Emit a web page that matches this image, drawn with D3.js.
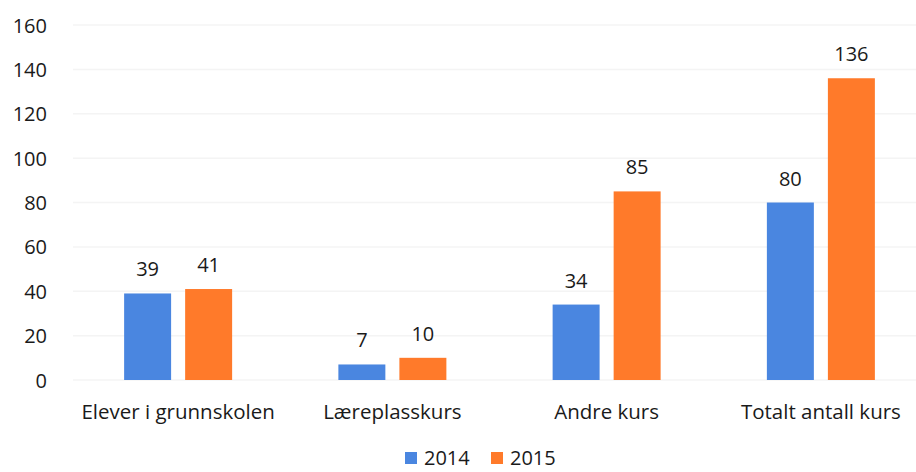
<!DOCTYPE html>
<html><head><meta charset="utf-8">
<script src="https://cdn.jsdelivr.net/npm/d3@7"></script>
<style>body{margin:0;background:#fff}svg{display:block}text{font-family:"Open Sans",sans-serif;fill:#1a1a1a}</style>
</head><body><svg id="c" width="916" height="472"></svg>
<script>
const categories = ["Elever i grunnskolen", "Læreplasskurs", "Andre kurs", "Totalt antall kurs"];
const seriesNames = ["2014", "2015"];
const values2014 = [39, 7, 34, 80];
const values2015 = [41, 10, 85, 136];
const yTicks = [0, 20, 40, 60, 80, 100, 120, 140, 160];
const colors = ["#4a86e0", "#ff7a2a"];

const svg = d3.select("#c");
const x = d3.scaleBand().domain(categories).range([71, 928]);
const xs = d3.scaleBand().domain(seriesNames).range([-54, 54]).paddingInner(0.23);
const y = d3.scaleLinear().domain([0, 160]).range([380, 25]);

// faint gridlines
svg.append("g").selectAll("line").data(yTicks).join("line")
  .attr("x1", 73).attr("x2", 916)
  .attr("y1", d => y(d)).attr("y2", d => y(d))
  .attr("stroke", "#f4f4f4").attr("stroke-width", 1.5);

// y axis
const ya = svg.append("g").attr("transform", "translate(47,0)")
  .call(d3.axisLeft(y).tickValues(yTicks).tickSize(0).tickPadding(0));
ya.select(".domain").remove();
ya.selectAll("text").style("font-size", "20px").attr("dy", "0.35em").style("font-family", "'Open Sans',sans-serif").attr("fill", "#1a1a1a");

// x axis
const xa = svg.append("g").attr("transform", "translate(0,380)")
  .call(d3.axisBottom(x).tickSize(0).tickPadding(0));
xa.select(".domain").remove();
xa.selectAll("text").style("font-size", "20.5px").attr("y", 39).attr("dy", "0").style("font-family", "'Open Sans',sans-serif").attr("fill", "#1a1a1a");

const data = categories.map((c, i) => ({c, vals: [values2014[i], values2015[i]]}));
const g = svg.append("g").selectAll("g").data(data).join("g")
  .attr("transform", d => `translate(${x(d.c) + x.bandwidth() / 2},0)`);
g.selectAll("rect").data(d => d.vals.map((v, j) => ({v, s: seriesNames[j], j}))).join("rect")
  .attr("x", d => xs(d.s)).attr("width", xs.bandwidth())
  .attr("y", d => y(d.v)).attr("height", d => y(0) - y(d.v))
  .attr("fill", d => colors[d.j]);
g.selectAll("text.v").data(d => d.vals.map((v, j) => ({v, s: seriesNames[j]}))).join("text")
  .attr("class", "v")
  .attr("x", d => xs(d.s) + xs.bandwidth() / 2).attr("y", d => y(d.v) - 17)
  .attr("text-anchor", "middle").style("font-size", "20px").text(d => d.v);

// legend
const lg = svg.append("g");
const lx = [405, 491];
seriesNames.forEach((s, j) => {
  lg.append("rect").attr("x", lx[j]).attr("y", 452).attr("width", 12).attr("height", 12).attr("fill", colors[j]);
  lg.append("text").attr("x", lx[j] + 19).attr("y", 465).style("font-size", "20px").text(s);
});
</script></body></html>
